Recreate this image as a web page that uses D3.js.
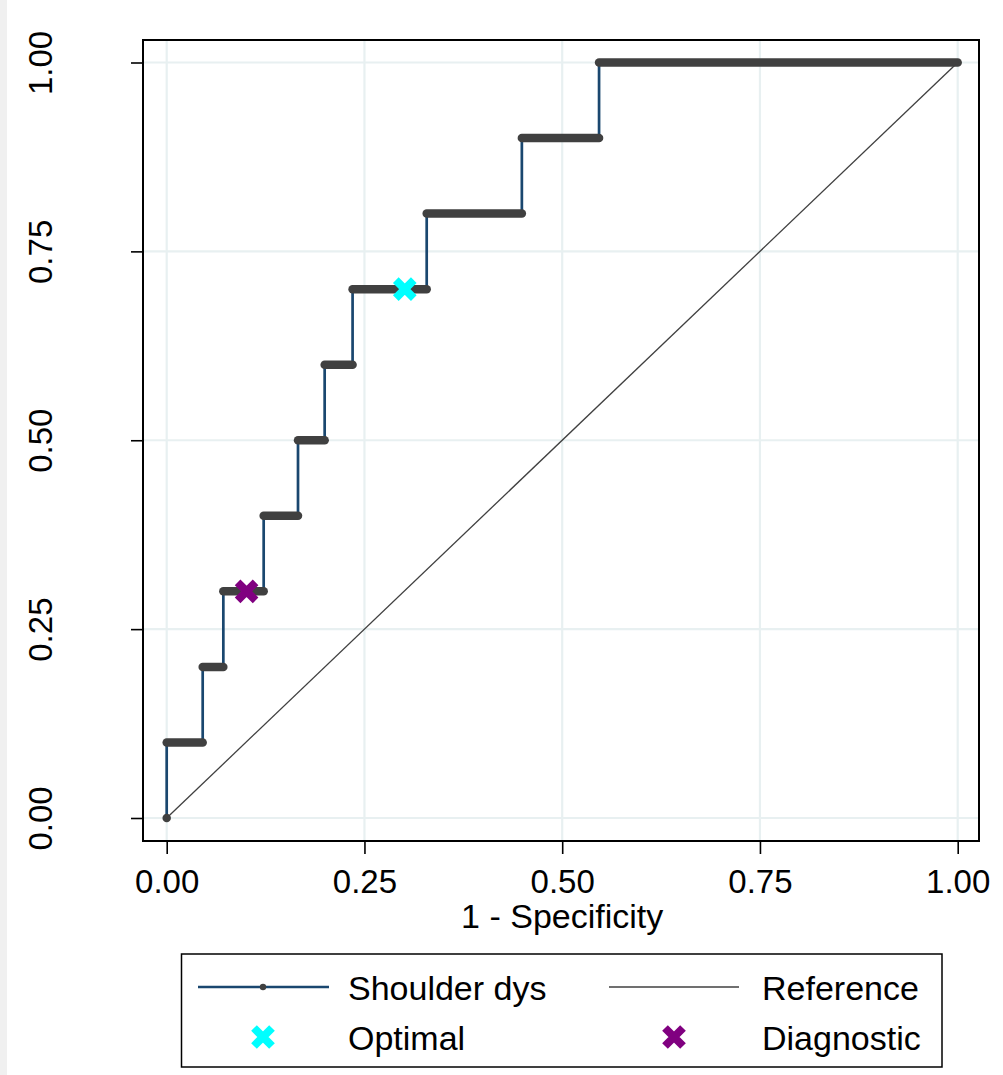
<!DOCTYPE html>
<html>
<head>
<meta charset="utf-8">
<script src="https://cdn.jsdelivr.net/npm/d3@7/dist/d3.min.js"></script>
<style>
  html, body { margin: 0; padding: 0; background: #fff; }
  svg { display: block; }
</style>
</head>
<body>
<div id="chart"></div>
<script>
// ROC step curve (Stata look): thick grey runs of cut-point markers on a navy step line.
const W = 1003, H = 1075;

// one entry per sensitivity level: the run of 1-specificity it covers
const sensLevels = [0, 0.1, 0.2, 0.3, 0.4, 0.5, 0.6, 0.7, 0.8, 0.9, 1.0];
const fprFrom    = [0, 0, 0.0455, 0.0716, 0.1226, 0.166, 0.1997, 0.235, 0.3287, 0.449, 0.5466];
const fprTo      = [0, 0.0455, 0.0716, 0.1226, 0.166, 0.1997, 0.235, 0.3287, 0.449, 0.5466, 1.0];

const optimalPt    = [0.301, 0.7];
const diagnosticPt = [0.101, 0.3];

const tickVals = [0, 0.25, 0.5, 0.75, 1];
const legendLabels = ['Shoulder dys', 'Reference', 'Optimal', 'Diagnostic'];

const NAVY = '#1a476f', GREY = '#404040', CYAN = '#00ffff', PURPLE = '#800080';
const FONT = 'Liberation Sans, Arial, Helvetica, sans-serif';

const frame = { l: 143, t: 40, r: 979, b: 841 };
const x = d3.scaleLinear().domain([0, 1]).range([166.7, 957.7]);
const y = d3.scaleLinear().domain([0, 1]).range([818, 62.5]);

const svg = d3.select('#chart').append('svg')
  .attr('width', W).attr('height', H)
  .attr('viewBox', `0 0 ${W} ${H}`);

svg.append('rect').attr('width', W).attr('height', H).attr('fill', '#fff');
svg.append('rect').attr('width', 7).attr('height', H).attr('fill', '#f0f0f0');

// gridlines
const grid = svg.append('g').attr('stroke', '#e8f0f1').attr('stroke-width', 2.2);
grid.selectAll('line.gx').data(tickVals).join('line')
  .attr('x1', d => x(d)).attr('x2', d => x(d))
  .attr('y1', frame.t).attr('y2', frame.b);
grid.selectAll('line.gy').data(tickVals).join('line')
  .attr('class', 'gy')
  .attr('x1', frame.l).attr('x2', frame.r)
  .attr('y1', d => y(d)).attr('y2', d => y(d));

// axes
const fmt = d3.format('.2f');
const xAxis = svg.append('g')
  .attr('transform', `translate(0,${frame.b})`)
  .call(d3.axisBottom(x).tickValues(tickVals).tickFormat(fmt).tickSize(13).tickPadding(15.5));
const yAxis = svg.append('g')
  .attr('transform', `translate(${frame.l},0)`)
  .call(d3.axisLeft(y).tickValues(tickVals).tickFormat(fmt).tickSize(12));
[xAxis, yAxis].forEach(a => {
  a.select('.domain').remove();
  a.selectAll('.tick line').attr('stroke', '#000').attr('stroke-width', 1.6);
  a.selectAll('.tick text').attr('fill', '#000')
    .attr('font-family', FONT).attr('font-size', 33);
});
yAxis.selectAll('.tick text')
  .attr('transform', 'rotate(-90)')
  .attr('x', 0).attr('y', -91).attr('dy', 0)
  .attr('text-anchor', 'middle');

svg.append('text')
  .attr('x', x(0.5)).attr('y', 928)
  .attr('text-anchor', 'middle')
  .attr('font-family', FONT).attr('font-size', 34)
  .text('1 - Specificity');

// ROC step line
const rocPts = [];
sensLevels.forEach((s, i) => { rocPts.push([fprFrom[i], s]); rocPts.push([fprTo[i], s]); });
const line = d3.line().x(d => x(d[0])).y(d => y(d[1]));
svg.append('path').datum(rocPts)
  .attr('d', line).attr('fill', 'none')
  .attr('stroke', NAVY).attr('stroke-width', 2.7);

// cut-point markers (dense, so they merge into thick runs)
svg.append('g').selectAll('line').data(sensLevels).join('line')
  .attr('x1', (d, i) => x(fprFrom[i])).attr('x2', (d, i) => x(fprTo[i]))
  .attr('y1', d => y(d)).attr('y2', d => y(d))
  .attr('stroke', GREY).attr('stroke-width', 8.5).attr('stroke-linecap', 'round');

// reference diagonal
svg.append('path').datum([[0, 0], [1, 1]])
  .attr('d', line).attr('fill', 'none')
  .attr('stroke', GREY).attr('stroke-width', 1.3);

function cross(g, cx, cy, color) {
  const a = 9;
  g.append('path')
    .attr('d', `M${cx - a},${cy - a}L${cx + a},${cy + a}M${cx - a},${cy + a}L${cx + a},${cy - a}`)
    .attr('stroke', color).attr('stroke-width', 8).attr('fill', 'none');
}
cross(svg, x(optimalPt[0]), y(optimalPt[1]), CYAN);
cross(svg, x(diagnosticPt[0]), y(diagnosticPt[1]), PURPLE);

// frame
svg.append('rect')
  .attr('x', frame.l).attr('y', frame.t)
  .attr('width', frame.r - frame.l).attr('height', frame.b - frame.t)
  .attr('fill', 'none').attr('stroke', '#000').attr('stroke-width', 2);

// legend
const lg = svg.append('g');
lg.append('rect').attr('x', 181.5).attr('y', 954).attr('width', 760.5).attr('height', 113)
  .attr('fill', '#fff').attr('stroke', '#000').attr('stroke-width', 1.5);
const row1 = 987, row2 = 1037;
lg.append('line').attr('x1', 198).attr('x2', 329).attr('y1', row1).attr('y2', row1)
  .attr('stroke', NAVY).attr('stroke-width', 2.7);
lg.append('circle').attr('cx', 263).attr('cy', row1).attr('r', 3.2).attr('fill', GREY);
lg.append('line').attr('x1', 609).attr('x2', 739).attr('y1', row1).attr('y2', row1)
  .attr('stroke', GREY).attr('stroke-width', 1.3);
cross(lg, 263, row2, CYAN);
cross(lg, 674, row2, PURPLE);
const legendPos = [[348, 1000], [762, 1000], [348, 1050], [762, 1050]];
lg.selectAll('text').data(legendLabels).join('text')
  .attr('x', (d, i) => legendPos[i][0]).attr('y', (d, i) => legendPos[i][1])
  .attr('font-family', FONT).attr('font-size', 34)
  .text(d => d);
</script>
</body>
</html>
